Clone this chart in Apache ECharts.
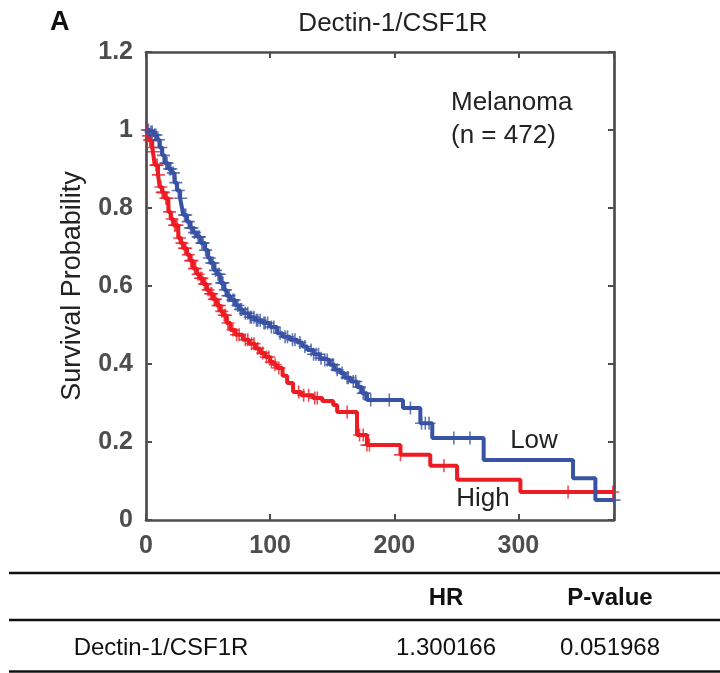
<!DOCTYPE html>
<html>
<head>
<meta charset="utf-8">
<script src="https://cdn.jsdelivr.net/npm/echarts@6/dist/echarts.min.js"></script>
<style>
  html, body { margin: 0; padding: 0; background: #fff; }
  #chart { width: 720px; height: 673px; }
</style>
</head>
<body>
<div id="chart"></div>
<script>
// Low 组 (蓝) 事件时间和生存率
var lowTimes = [0, 3, 6, 9, 11, 13, 15, 18, 21, 23, 25, 27.5, 29, 30, 33, 35.5, 38, 41, 44, 47.6, 50, 52, 55, 57, 60, 63, 65, 68, 72, 75, 78, 83, 88, 94, 100, 105.6, 110, 116, 122, 126, 130, 135, 140, 143, 148, 152, 156.5, 160, 165, 170, 174, 178, 207, 221, 230.6, 272, 344, 362, 377];
var lowSurv = [1.0, 0.995, 0.987, 0.975, 0.955, 0.935, 0.915, 0.9, 0.89, 0.865, 0.845, 0.825, 0.8, 0.782, 0.765, 0.749, 0.737, 0.726, 0.71, 0.692, 0.672, 0.659, 0.64, 0.63, 0.608, 0.59, 0.575, 0.564, 0.55, 0.54, 0.53, 0.52, 0.512, 0.505, 0.495, 0.479, 0.47, 0.462, 0.455, 0.445, 0.436, 0.425, 0.415, 0.41, 0.398, 0.385, 0.377, 0.365, 0.355, 0.341, 0.325, 0.308, 0.287, 0.248, 0.21, 0.154, 0.107, 0.051, 0.051];
var lowCensor = [2, 4, 5, 7, 8, 10, 12, 14, 16, 17, 19, 20, 22, 24, 26, 28, 31, 32, 34, 36, 37, 39, 42, 43, 45, 46, 48, 51, 53, 54, 56, 58, 59, 61, 62, 64, 66, 67, 70, 71, 74, 76, 77, 80, 82, 84, 85, 87, 89, 90, 92, 95, 96, 98, 101, 103, 108, 112, 114, 118, 120, 124, 128, 133, 135, 137, 139, 141, 144, 146, 150, 151, 154, 158, 162, 163, 167, 169, 172, 175, 176, 181, 196, 213, 222, 225, 228, 248, 261, 377];

// High 组 (红)
var highTimes = [0, 2, 3, 5, 5.6, 7, 9.7, 11, 13, 15, 18, 20, 22, 26, 28, 30, 33, 35.5, 38, 41, 43, 46, 49, 51, 54, 57, 60, 62, 65, 68, 72, 78, 83, 88, 92, 96, 100, 103, 105.6, 110, 113.7, 118.5, 125, 134.7, 142, 150.8, 154, 170, 178, 205, 229, 250.6, 301.6, 377];
var highSurv = [1.0, 0.985, 0.974, 0.955, 0.944, 0.91, 0.885, 0.854, 0.84, 0.825, 0.79, 0.772, 0.756, 0.723, 0.71, 0.697, 0.68, 0.665, 0.645, 0.63, 0.62, 0.605, 0.59, 0.58, 0.566, 0.55, 0.535, 0.525, 0.505, 0.487, 0.475, 0.462, 0.452, 0.44, 0.428, 0.418, 0.405, 0.398, 0.39, 0.37, 0.351, 0.328, 0.32, 0.313, 0.305, 0.295, 0.277, 0.218, 0.192, 0.167, 0.139, 0.103, 0.072, 0.072];
var highCensor = [1, 2, 3, 4, 5, 6, 8, 9, 10, 12, 13, 14, 16, 17, 19, 21, 23, 24, 25, 27, 29, 31, 32, 34, 36, 37, 39, 40, 42, 44, 45, 47, 48, 50, 52, 53, 55, 56, 58, 59, 61, 63, 64, 66, 70, 73, 75, 80, 82, 85, 87, 90, 94, 97, 99, 101, 104, 107, 123, 127, 131, 136, 138, 162, 172, 175, 178, 180, 205, 240, 340, 376];

var xTicks = [0, 100, 200, 300];
var yTicks = [0, 0.2, 0.4, 0.6, 0.8, 1, 1.2];

var tableHeader = ['HR', 'P-value'];
var tableRow = ['Dectin-1/CSF1R', '1.300166', '0.051968'];

var BLUE = '#3953a4';
var RED = '#ed1c24';
var AXIS = '#4d4d4d';
var FONT = '"Liberation Sans", Arial, sans-serif';

function pairs(ts, ss) {
  return ts.map(function (t, i) { return [t, ss[i]]; });
}
// 删失点取该时间的生存率
function survAt(ts, ss, t) {
  var v = ss[0];
  for (var i = 0; i < ts.length; i++) {
    if (ts[i] <= t) v = ss[i];
  }
  return v;
}
function censorPts(c, ts, ss) {
  return c.map(function (t) { return [t, survAt(ts, ss, t)]; });
}

var plus = 'path://M-0.6,-5L0.6,-5L0.6,-0.6L5,-0.6L5,0.6L0.6,0.6L0.6,5L-0.6,5L-0.6,0.6L-5,0.6L-5,-0.6L-0.6,-0.6Z';

var myChart = echarts.init(document.getElementById('chart'));

var axisCommon = {
  axisLine: { show: true, onZero: false, lineStyle: { color: AXIS, width: 2.7 } },
  axisTick: { show: true, inside: true, length: 6, lineStyle: { color: AXIS, width: 2 } },
  splitLine: { show: false }
};

var option = {
  animation: false,
  grid: { left: 146, right: 106, top: 52, bottom: 153 },
  xAxis: [
    Object.assign({
      type: 'value', min: 0, max: 377, interval: 100, position: 'bottom',
      axisLabel: {
        show: true, margin: 14,
        fontFamily: FONT, fontWeight: 'bold', fontSize: 25, color: AXIS,
        customValues: xTicks
      }
    }, axisCommon),
    Object.assign({
      type: 'value', min: 0, max: 377, interval: 100, position: 'top',
      axisLabel: { show: false }
    }, axisCommon)
  ],
  yAxis: [
    Object.assign({
      type: 'value', min: 0, max: 1.2, interval: 0.2, position: 'left',
      name: 'Survival Probability', nameLocation: 'middle', nameGap: 60,
      nameTextStyle: { fontFamily: FONT, fontSize: 27, color: '#222' },
      axisLabel: {
        show: true, margin: 13,
        fontFamily: FONT, fontWeight: 'bold', fontSize: 25, color: AXIS,
        customValues: yTicks
      }
    }, axisCommon),
    Object.assign({
      type: 'value', min: 0, max: 1.2, interval: 0.2, position: 'right',
      axisLabel: { show: false }
    }, axisCommon)
  ],
  series: [
    {
      name: 'Low', type: 'line', step: 'end', showSymbol: false,
      data: pairs(lowTimes, lowSurv),
      lineStyle: { color: BLUE, width: 4 }, z: 3
    },
    {
      name: 'High', type: 'line', step: 'end', showSymbol: false,
      data: pairs(highTimes, highSurv),
      lineStyle: { color: RED, width: 4 }, z: 2
    },
    {
      name: 'Low censor', type: 'scatter', symbol: plus, symbolSize: [13, 13],
      data: censorPts(lowCensor, lowTimes, lowSurv),
      itemStyle: { color: BLUE }, z: 4
    },
    {
      name: 'High censor', type: 'scatter', symbol: plus, symbolSize: [13, 13],
      data: censorPts(highCensor, highTimes, highSurv),
      itemStyle: { color: RED }, z: 3
    }
  ],
  graphic: [
    { type: 'text', left: 50, top: 9, style: { text: 'A', font: 'bold 27px ' + FONT, fill: '#111' } },
    { type: 'text', x: 393, y: 24, style: { text: 'Dectin-1/CSF1R', font: '26px ' + FONT, fill: '#222', align: 'center', verticalAlign: 'middle' } },
    { type: 'text', x: 451, y: 103, style: { text: 'Melanoma', font: '26px ' + FONT, fill: '#222', align: 'left', verticalAlign: 'middle' } },
    { type: 'text', x: 451, y: 136, style: { text: '(n = 472)', font: '26px ' + FONT, fill: '#222', align: 'left', verticalAlign: 'middle' } },
    { type: 'text', x: 534, y: 441, style: { text: 'Low', font: '26px ' + FONT, fill: '#222', align: 'center', verticalAlign: 'middle' } },
    { type: 'text', x: 483, y: 499, style: { text: 'High', font: '26px ' + FONT, fill: '#222', align: 'center', verticalAlign: 'middle' } },
    // 表格
    { type: 'line', shape: { x1: 9, y1: 573, x2: 720, y2: 573 }, style: { stroke: '#111', lineWidth: 2.5 } },
    { type: 'line', shape: { x1: 9, y1: 620, x2: 720, y2: 620 }, style: { stroke: '#111', lineWidth: 2.5 } },
    { type: 'line', shape: { x1: 9, y1: 671.5, x2: 720, y2: 671.5 }, style: { stroke: '#111', lineWidth: 2.5 } },
    { type: 'text', x: 446, y: 598, style: { text: tableHeader[0], font: 'bold 24px ' + FONT, fill: '#111', align: 'center', verticalAlign: 'middle' } },
    { type: 'text', x: 610, y: 598, style: { text: tableHeader[1], font: 'bold 24px ' + FONT, fill: '#111', align: 'center', verticalAlign: 'middle' } },
    { type: 'text', x: 161, y: 648, style: { text: tableRow[0], font: '24px ' + FONT, fill: '#111', align: 'center', verticalAlign: 'middle' } },
    { type: 'text', x: 446, y: 648, style: { text: tableRow[1], font: '24px ' + FONT, fill: '#111', align: 'center', verticalAlign: 'middle' } },
    { type: 'text', x: 610, y: 648, style: { text: tableRow[2], font: '24px ' + FONT, fill: '#111', align: 'center', verticalAlign: 'middle' } }
  ]
};

myChart.setOption(option);
</script>
</body>
</html>
